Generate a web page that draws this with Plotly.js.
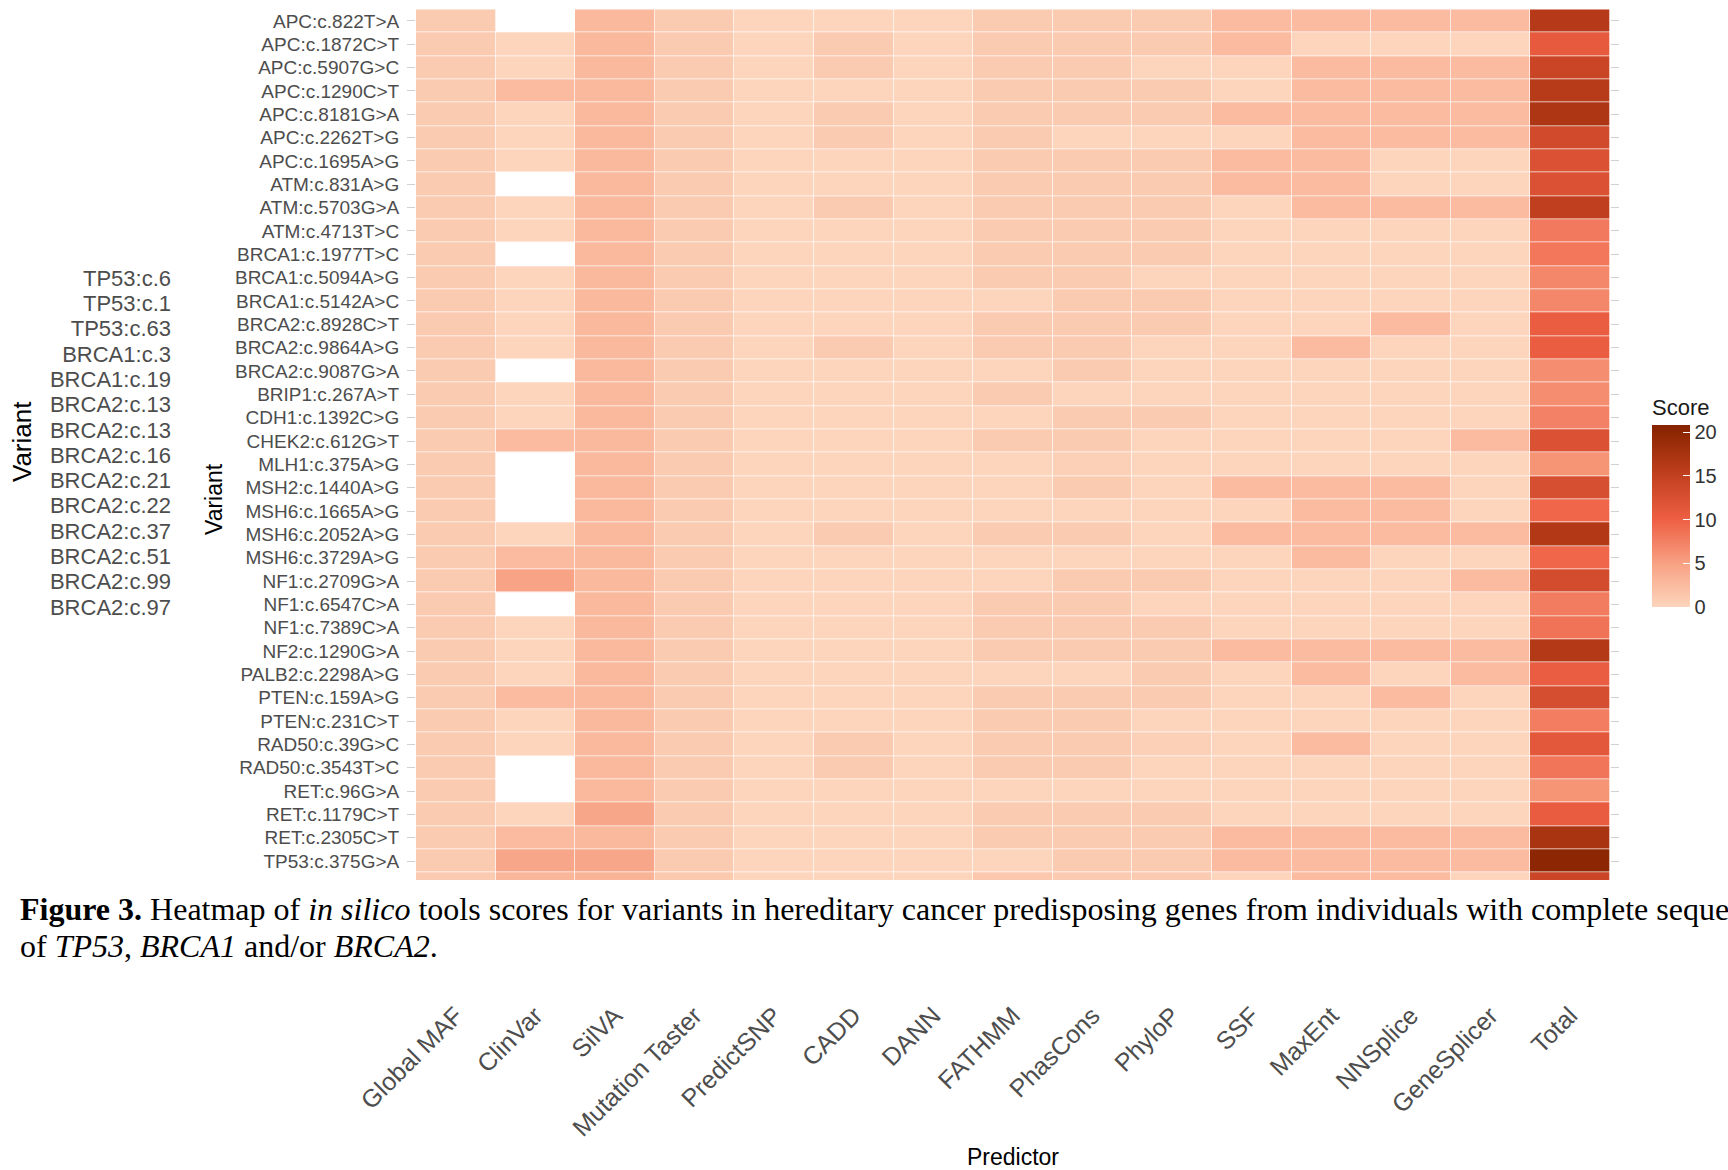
<!DOCTYPE html>
<html>
<head>
<meta charset="utf-8">
<script src="https://cdn.plot.ly/plotly-3.0.1.min.js"></script>
<style>html,body{margin:0;padding:0;background:#fff;}#chart{width:1728px;height:1170px;}</style>
</head>
<body>
<div id="chart"></div>
<script>
// ---- data ----
const predictors = ["Global MAF","ClinVar","SilVA","Mutation Taster","PredictSNP","CADD","DANN","FATHMM","PhasCons","PhyloP","SSF","MaxEnt","NNSplice","GeneSplicer","Total"];

const variants = ["APC:c.822T>A","APC:c.1872C>T","APC:c.5907G>C","APC:c.1290C>T","APC:c.8181G>A","APC:c.2262T>G","APC:c.1695A>G",
  "ATM:c.831A>G","ATM:c.5703G>A","ATM:c.4713T>C","BRCA1:c.1977T>C","BRCA1:c.5094A>G","BRCA1:c.5142A>C","BRCA2:c.8928C>T",
  "BRCA2:c.9864A>G","BRCA2:c.9087G>A","BRIP1:c.267A>T","CDH1:c.1392C>G","CHEK2:c.612G>T","MLH1:c.375A>G","MSH2:c.1440A>G",
  "MSH6:c.1665A>G","MSH6:c.2052A>G","MSH6:c.3729A>G","NF1:c.2709G>A","NF1:c.6547C>A","NF1:c.7389C>A","NF2:c.1290G>A",
  "PALB2:c.2298A>G","PTEN:c.159A>G","PTEN:c.231C>T","RAD50:c.39G>C","RAD50:c.3543T>C","RET:c.96G>A","RET:c.1179C>T",
  "RET:c.2305C>T","TP53:c.375G>A","TSC1:c.2081G>T"];

const globalMAF    = [1,1,1,1,1,1,1,1,1,1,1,1,1,1,1,1,1,1,1,1,1,1,1,1,1,1,1,1,1,1,1,1,1,1,1,1,1,1];
const clinVar      = [null,0,0,2.5,0,0,0,null,0,0,null,0,0,0,0,null,0,0,2.5,null,null,null,0,2.5,4.8,null,0,0,0,2.5,0,0,null,null,0,2.5,4.5,3];
const silVA        = [2.7,2.7,2.7,2.7,2.7,2.7,2.7,2.7,2.7,2.7,2.7,2.7,2.7,2.7,2.7,2.7,2.7,2.7,2.7,2.7,2.7,2.7,2.7,2.7,2.7,2.7,2.7,2.7,2.7,2.7,2.7,2.7,2.7,2.7,4.5,2.7,4.5,3.2];
const mutTaster    = [1,1,1,1,1,1,1,1,1,1,1,1,1,1,1,1,1,1,1,1,1,1,1,1,1,1,1,1,1,1,1,1,1,1,1,1,1,1.2];
const predictSNP   = [0,0,0,0,0,0,0,0,0,0,0,0,0,0,0,0,0,0,0,0,0,0,0,0,0,0,0,0,0,0,0,0,0,0,0,0,0,0];
const cadd         = [0,1,1,0,1,1,0,0,1,0,0,0,0,0,1,0,0,0,0,0,0,0,1,0,0,0,0,0,0,0,0,1,1,0,0,0,0,0];
const dann         = [0,0,0,0,0,0,0,0,0,0,0,0,0,0,0,0,0,0,0,0,0,0,0,0,0,0,0,0,0,0,0,0,0,0,0,0,0,0];
const fathmm       = [1,1,1,1,1,1,1,1,1,1,1,1,0,1,1,0,1,0,1,0,0,0,1,0,0,1,1,1,0,1,1,1,1,0,1,1,0,1.3];
const phasCons     = [1,1,1,1,1,0,1,1,1,1,1,1,1,1,1,1,0,1,1,0.5,1,0,1,0,1,1,1,1,0,1,1,1,1,0,1,1,1,1];
const phyloP       = [1,1,0,1,1,0,1,1,1,1,1,0,1,1,0,0,0,1,0,0,0,0,0,0,1,0,1,1,1,1,0,0.5,0,0,1,1,1,1];
const ssf          = [2.5,2.5,0,0,2.5,0,2.5,2.5,0,0,0,0,0,0,0,0,0,0,0,0,2.5,0,2.5,0,0,0,0,2.5,0,0,0,0,0,0,0,2.5,2.5,0];
const maxEnt       = [2.5,0,2.5,2.5,2.5,2.5,2.5,2.5,2.5,0,0,0,0,0,2.5,0,0,0,0,0,2.5,2.5,2.5,2.5,0,0,0,2.5,2.5,0,0,2.5,0,0,0,2.5,2.5,2.5];
const nnSplice     = [2.5,0,2.5,2.5,2.5,2.5,0,0,2.5,0,0,0,0,2.5,0,0,0,0,0,0,2.5,2.5,2.5,0,0,0,0,2.5,0,2.5,0,0,0,0,0,2.5,2.5,2.5];
const geneSplicer  = [2.5,0,2.5,2.5,2.5,2.5,0,0,2.5,0,0,0,0,0,0,0,0,0,2.5,0,0,0,2.5,0,2.5,0,0,2.5,2.5,0,0,0,0,0,0,2.5,2.5,0];
const total        = [16.1,10.8,14.2,16,16.9,13.4,12.3,12.3,15.2,8,8.2,7,7,10.4,10.4,6.5,6.5,7.4,12.3,6,12.6,9.5,16.5,9.5,13,7.8,8.5,16.3,10.3,12.7,7.7,11.3,8.3,6,10.5,17.4,20,14];

// truncated labels of the second (overlapping) variant axis on the far left
const leftLabels = ["TP53:c.6","TP53:c.1","TP53:c.63","BRCA1:c.3","BRCA1:c.19","BRCA2:c.13","BRCA2:c.13","BRCA2:c.16",
  "BRCA2:c.21","BRCA2:c.22","BRCA2:c.37","BRCA2:c.51","BRCA2:c.99","BRCA2:c.97"];

const scoreTicks = [0,5,10,15,20];

// ---- build matrix (rows = variants, cols = predictors) ----
const columns = [globalMAF,clinVar,silVA,mutTaster,predictSNP,cadd,dann,fathmm,phasCons,phyloP,ssf,maxEnt,nnSplice,geneSplicer,total];
const z = variants.map((v,i) => columns.map(col => col[i]));

const W = 1728, H = 1170;
const px = x => x / W;
const py = y => 1 - y / H;

const SANS = "Liberation Sans, Arial, Helvetica, sans-serif";
const SERIF = "Liberation Serif, Times New Roman, serif";
const ZMAX = 20.8;
const cs = [
  [0, "#FCD5BC"],
  [5/ZMAX, "#F8A183"],
  [10/ZMAX, "#EE5F44"],
  [15/ZMAX, "#C2401F"],
  [20/ZMAX, "#8D2602"],
  [1, "#862300"]
];

const heat = {
  type: "heatmap",
  x: predictors,
  y: variants,
  z: z,
  zmin: 0,
  zmax: ZMAX,
  colorscale: cs,
  xgap: 0.7,
  ygap: 0.7,
  hoverongaps: false,
  colorbar: {
    x: px(1652), xanchor: "left",
    y: py(501), yanchor: "middle",
    len: 212, lenmode: "pixels",
    thickness: 38, thicknessmode: "pixels",
    outlinewidth: 0,
    xpad: 0, ypad: 0,
    ticks: "inside", ticklen: 7, tickcolor: "#ffffff", tickwidth: 1.2,
    tickvals: scoreTicks,
    tickfont: {family: SANS, size: 20, color: "#333333"},
    title: {text: "Score", side: "top", font: {family: SANS, size: 22, color: "#1a1a1a"}}
  }
};

const dummy = {
  type: "scatter", mode: "markers",
  x: [], y: [],
  xaxis: "x2", yaxis: "y2",
  showlegend: false, hoverinfo: "skip"
};

const layout = {
  width: W, height: H,
  margin: {l: 0, r: 0, t: 0, b: 0},
  paper_bgcolor: "#ffffff",
  plot_bgcolor: "#ffffff",
  showlegend: false,
  font: {family: SANS},
  xaxis: {
    domain: [px(416), px(1610)],
    type: "category",
    categoryarray: predictors,
    anchor: "free",
    position: py(995),
    side: "bottom",
    tickangle: -45,
    ticks: "",
    showgrid: false, zeroline: false, showline: false,
    tickfont: {family: SANS, size: 25, color: "#4d4d4d"},
    title: {text: "Predictor", font: {family: SANS, size: 23, color: "#000000"}, standoff: 18}
  },
  yaxis: {
    domain: [py(880), py(9.3)],
    type: "category",
    categoryarray: variants,
    range: [36.5 + 7.3/23.33, -0.5],
    anchor: "x",
    ticks: "outside", ticklen: 8, tickcolor: "#d0d0d0", tickwidth: 1,
    mirror: "ticks",
    ticklabelstandoff: 4,
    showgrid: false, zeroline: false, showline: false,
    tickfont: {family: SANS, size: 19, color: "#4d4d4d"}
  },
  xaxis2: {
    domain: [px(171), px(300)],
    anchor: "y2",
    visible: false,
    range: [0, 1]
  },
  yaxis2: {
    domain: [py(619.6), py(265.4)],
    anchor: "free",
    position: px(171),
    range: [13.5, -0.5],
    tickmode: "array",
    tickvals: leftLabels.map((_, i) => i),
    ticktext: leftLabels,
    ticks: "",
    showgrid: false, zeroline: false, showline: false,
    tickfont: {family: SANS, size: 22, color: "#4d4d4d"}
  },
  annotations: [
    {
      xref: "paper", yref: "paper",
      x: px(22), y: py(442), xanchor: "center", yanchor: "middle",
      text: "Variant", textangle: -90,
      showarrow: false,
      font: {family: SANS, size: 26, color: "#000000"}
    },
    {
      xref: "paper", yref: "paper",
      x: px(214), y: py(499), xanchor: "center", yanchor: "middle",
      text: "Variant", textangle: -90,
      showarrow: false,
      font: {family: SANS, size: 23, color: "#000000"}
    },
    {
      xref: "paper", yref: "paper",
      x: px(18), y: py(909), xanchor: "left", yanchor: "middle",
      text: "<b>Figure 3.</b> Heatmap of <i>in silico</i> tools scores for variants in hereditary cancer predisposing genes from individuals with complete seque",
      showarrow: false, align: "left",
      font: {family: SERIF, size: 32, color: "#000000"}
    },
    {
      xref: "paper", yref: "paper",
      x: px(18), y: py(946), xanchor: "left", yanchor: "middle",
      text: "of <i>TP53</i>, <i>BRCA1</i> and/or <i>BRCA2</i>.",
      showarrow: false, align: "left",
      font: {family: SERIF, size: 32, color: "#000000"}
    }
  ]
};

Plotly.newPlot("chart", [heat, dummy], layout, {displayModeBar: false, responsive: false});
</script>
</body>
</html>
